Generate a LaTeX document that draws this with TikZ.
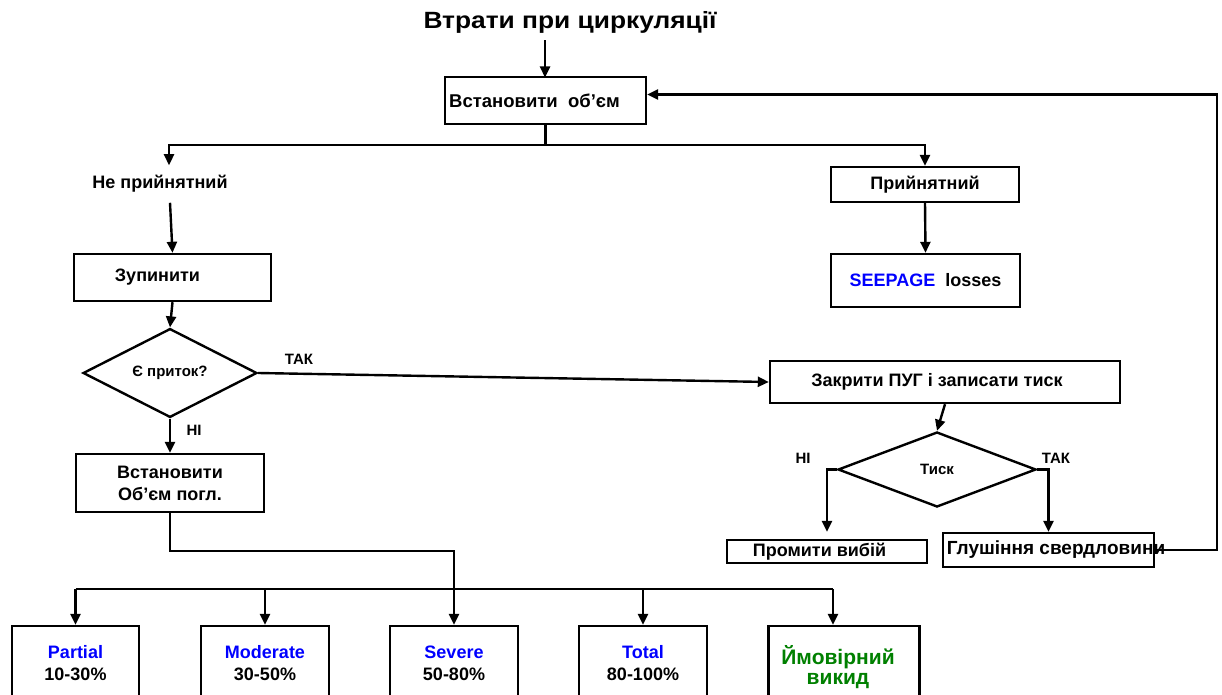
\documentclass[tikz,border=0pt]{standalone}
\usepackage{fontspec}
\setmainfont{Liberation Sans}
\usetikzlibrary{arrows.meta,shapes.geometric}
\definecolor{lblue}{RGB}{0,0,255}
\definecolor{lgreen}{RGB}{0,128,0}
\begin{document}
\begin{tikzpicture}[x=1pt,y=-1pt, line width=2.4pt,
  arr/.style={-{Triangle[length=11pt,width=10pt]}},
  box/.style={draw, rectangle, inner sep=0pt, font=\bfseries\fontsize{18}{22}\selectfont},
  txt/.style={font=\bfseries\fontsize{18}{22}\selectfont, inner sep=0pt},
  lbl/.style={font=\bfseries\fontsize{15}{17}\selectfont, inner sep=0pt},
  dia/.style={draw, diamond, inner sep=0pt, font=\bfseries\fontsize{15}{17}\selectfont},
  bbox/.style={box, minimum height=74pt, align=center},
]
\useasboundingbox (0,0) rectangle (1222,695);
\clip (0,0) rectangle (1222,695);

% title and top
\node[txt, font=\bfseries\fontsize{23.5}{26}\selectfont] (title) at (570,22) {\scalebox{1.12}[1]{Втрати при циркуляції}};
\node[box, minimum width=201pt, minimum height=47pt, font=\bfseries\fontsize{18.5}{22}\selectfont] (b1) at (545.5,100.5) {Встановити\ \ об’єм\hspace*{22pt}};

% left branch
\node[txt, inner ysep=9pt] (nepr) at (160,184) {Не прийнятний};
\node[box, minimum width=197pt, minimum height=47pt] (zup) at (172.5,277.5) {Зупинити\hspace*{30pt}};
\node[dia, minimum width=174pt, minimum height=81pt] (d1) at (170,373) {Є приток?};
\node[lbl] (tak1) at (299,359) {ТАК};
\node[lbl] (ni1) at (194,430) {НІ};
\node[box, minimum width=188pt, minimum height=58pt, align=center] (vst) at (170,483) {Встановити\\Об’єм погл.};

% right branch
\node[box, minimum width=188pt, minimum height=35pt] (pr) at (925,184.5) {Прийнятний};
\node[box, minimum width=189pt, minimum height=53pt] (seep) at (925.5,280.5) {\textcolor{lblue}{SEEPAGE}\ \ losses};
\node[box, minimum width=350pt, minimum height=42pt] (zak) at (945,382) {Закрити ПУГ і записати тиск\hspace*{16pt}};
\node[dia, minimum width=198pt, minimum height=75pt] (d2) at (937,469.5) {\raisebox{-4pt}{Тиск}};
\node[lbl] (ni2) at (803,458) {НІ};
\node[lbl] (tak2) at (1056,458) {ТАК};
\node[box, minimum width=200pt, minimum height=23pt] (prom) at (827,551.5) {Промити вибій\hspace*{15pt}};
\node[box, minimum width=211pt, minimum height=34pt] (hl) at (1048.5,550) {};
\node[txt, font=\bfseries\fontsize{19}{22}\selectfont] (hlt) at (1056,550) {Глушіння свердловини};

% bottom boxes
\node[bbox, minimum width=127pt] (part) at (75.5,663) {\textcolor{lblue}{Partial}\\10-30\%};
\node[bbox, minimum width=128pt] (mod) at (265,663) {\textcolor{lblue}{Moderate}\\30-50\%};
\node[bbox, minimum width=128pt] (sev) at (454,663) {\textcolor{lblue}{Severe}\\50-80\%};
\node[bbox, minimum width=128pt] (tot) at (643,663) {\textcolor{lblue}{Total}\\80-100\%};
\node[bbox, minimum width=151pt, minimum height=82pt, font=\bfseries\fontsize{21}{20}\selectfont, text=lgreen] (ymov) at (844,667) {Ймовірний\hspace*{12pt}\\викид\hspace*{12pt}};

% connectors
\coordinate (t0) at (title.south -| 545,0);
\draw[arr] ([yshift=-6pt]t0) -- (545,77.5);
\draw[arr] (b1.south) -- ++(0,20) -| ([xshift=9pt]nepr.north);
\draw[arr] (b1.south) -- ++(0,20) -| (pr.north);
\draw[arr] ([xshift=10pt]nepr.south) -- (zup.north);
\draw[arr] (zup.south) -- (d1.north);
\draw[arr] (d1.east) -- (zak.west);
\draw[arr] (d1.south) -- (vst.north);
\draw[arr] (vst.south) -- ++(0,38) -| (sev.north);

\coordinate (busL) at (75.5,589);
\coordinate (busR) at (833,589);
\draw (busL) -- (busR);
\draw[arr] (busL) -- (part.north);
\draw[arr] (mod.north |- busL) -- (mod.north);
\draw[arr] (tot.north |- busL) -- (tot.north);
\draw[arr] (busR) -- (busR |- ymov.north);

\draw[arr] (pr.south) -- (seep.north);
\draw[arr] (zak.south) -- (d2.north);
\draw[arr, shorten >=7pt] (d2.west) -| (prom.north);
\draw[arr] (d2.east) -| (hl.north);
\coordinate (fb) at (1217,550);
\draw[arr] (hl.east) -- (fb) |- ([yshift=6pt]b1.east);
\end{tikzpicture}
\end{document}
